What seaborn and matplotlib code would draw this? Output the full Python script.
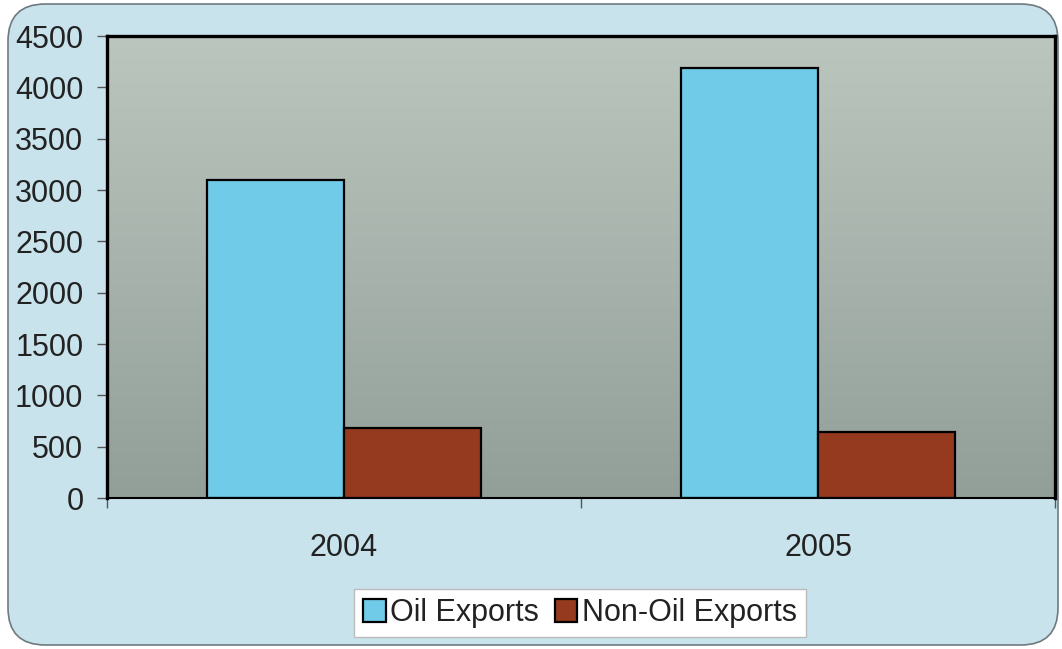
import numpy as np
import pandas as pd
import matplotlib
matplotlib.use("Agg")
import matplotlib.pyplot as plt
from matplotlib.patches import FancyBboxPatch
import seaborn as sns

# Export values by year
years = ["2004", "2005"]
oil_exports = [3100, 4190]
non_oil_exports = [680, 640]
series_names = ["Oil Exports", "Non-Oil Exports"]
y_ticks = [0, 500, 1000, 1500, 2000, 2500, 3000, 3500, 4000, 4500]

df = pd.DataFrame({
    "Year": years * 2,
    "Series": [series_names[0]] * len(years) + [series_names[1]] * len(years),
    "Value": oil_exports + non_oil_exports,
})

sns.set_theme(style="white")
plt.rcParams["font.family"] = ["Liberation Sans", "DejaVu Sans"]

FS = 22

fig = plt.figure(figsize=(10.62, 6.49), dpi=100)
fig.patch.set_facecolor("white")

# Rounded light-blue panel behind the chart
panel = FancyBboxPatch((8 / 1062, 4 / 649), 1050 / 1062, 641 / 649,
                       boxstyle="round,pad=0,rounding_size=0.035",
                       transform=fig.transFigure, facecolor="#c9e3ed",
                       edgecolor="#6f7a80", linewidth=1.2, zorder=-5,
                       mutation_aspect=1062 / 649)
fig.patches.append(panel)

ax = fig.add_axes([107 / 1062, 1 - 498 / 649, (1055 - 107) / 1062, (498 - 36) / 649])
ax.set_zorder(2)

# Vertical gradient for the plotting area
grad = np.linspace(0, 1, 256).reshape(-1, 1)
top = np.array([0.733, 0.776, 0.745])
bot = np.array([0.573, 0.624, 0.600])
img = top * (1 - grad[..., None]) + bot * grad[..., None]
ax.imshow(img, extent=[0, 1, 0, 1], transform=ax.transAxes,
          aspect="auto", zorder=0)

palette = {series_names[0]: "#6fcbe7", series_names[1]: "#953a1f"}
sns.barplot(data=df, x="Year", y="Value", hue="Series", palette=palette,
            width=0.58, edgecolor="black", linewidth=1.6, saturation=1,
            ax=ax, zorder=2)

ax.set_xlim(-0.5, 1.5)
ax.set_ylim(0, 4500)
ax.set_yticks(y_ticks)
ax.set_yticklabels([str(v) for v in y_ticks], fontsize=FS, color="#222222")
ax.set_xlabel("")
ax.set_ylabel("")

# Category labels centred, tick marks at category boundaries
ax.set_xticks([0, 1])
ax.set_xticklabels(years, fontsize=FS, color="#222222")
ax.tick_params(axis="x", length=0, pad=25)
ax.set_xticks([-0.5, 0.5, 1.5], minor=True)
ax.tick_params(axis="x", which="minor", length=7, width=1, color="#555555",
               direction="out", bottom=True)
ax.tick_params(axis="y", length=7, width=1, color="#555555",
               direction="out", left=True, pad=10)

for side in ["top", "left", "right", "bottom"]:
    ax.spines[side].set_visible(True)
    ax.spines[side].set_color("black")
    ax.spines[side].set_linewidth(2.4)
ax.spines["bottom"].set_linewidth(1.5)

leg = ax.legend(loc="center", bbox_to_anchor=(580 / 1062, 1 - 613 / 649),
                bbox_transform=fig.transFigure, ncol=2, fontsize=FS,
                frameon=True, fancybox=False, handlelength=0.75,
                handleheight=0.75, handletextpad=0.15, columnspacing=0.5,
                borderpad=0.3)
leg.get_frame().set_facecolor("white")
leg.get_frame().set_edgecolor("#bbbbbb")
leg.get_frame().set_alpha(1)
for t in leg.get_texts():
    t.set_color("#222222")

fig.savefig("out.png", dpi=100, facecolor=fig.get_facecolor())
